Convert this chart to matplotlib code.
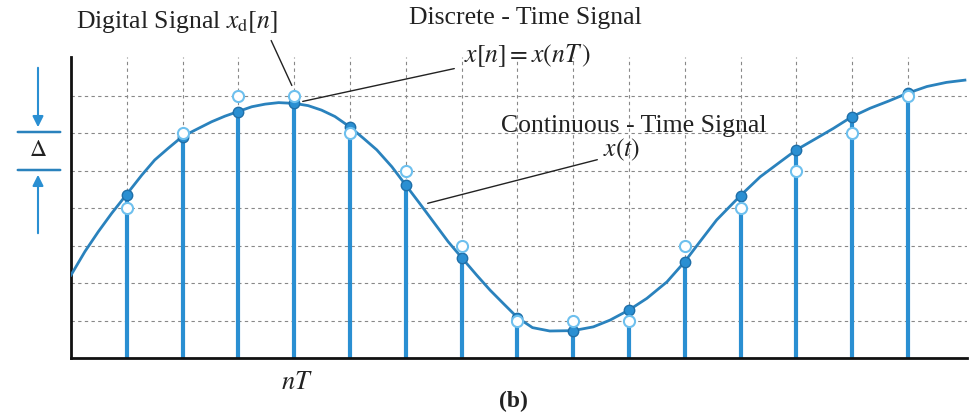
import numpy as np
import matplotlib
matplotlib.use('Agg')
import matplotlib.pyplot as plt

plt.rcParams['font.family'] = ['Liberation Serif', 'DejaVu Serif']
plt.rcParams['mathtext.fontset'] = 'stix'

# continuous-time signal x(t) (t in sample periods)
curve_t = [0, 0.25, 0.49, 0.73, 0.99, 1.27, 1.5, 1.74, 1.99, 2.28, 2.52,
           2.76, 2.99, 3.24, 3.48, 3.72, 4.0, 4.25, 4.49, 4.73, 4.99, 5.24,
           5.48, 5.75, 6.0, 6.25, 6.49, 6.76, 7.0, 7.27, 7.51, 7.75, 8.0,
           8.27, 8.58, 9.0, 9.36, 9.66, 10.0, 10.32, 10.68, 11.0, 11.27,
           11.57, 11.99, 12.35, 12.71, 13.0, 13.36, 13.66, 13.99, 14.32,
           14.65, 14.99, 15.34, 15.69, 16.02]
curve_x = [2.21, 2.84, 3.37, 3.86, 4.35, 4.88, 5.28, 5.59, 5.90, 6.12, 6.30,
           6.45, 6.57, 6.70, 6.77, 6.81, 6.79, 6.73, 6.61, 6.44, 6.17, 5.86,
           5.55, 5.10, 4.61, 4.12, 3.64, 3.10, 2.68, 2.21, 1.81, 1.45, 1.08,
           0.81, 0.72, 0.73, 0.83, 1.01, 1.28, 1.59, 2.03, 2.57, 3.10,
           3.68, 4.32, 4.83, 5.23, 5.55, 5.86, 6.12, 6.43, 6.66,
           6.85, 7.06, 7.24, 7.35, 7.41]

# samples x[n] = x(nT) and quantized x_d[n]
n = [1, 2, 3, 4, 5, 6, 7, 8, 9, 10, 11, 12, 13, 14, 15]
x_n = [4.35, 5.90, 6.57, 6.79, 6.17, 4.61, 2.68, 1.08, 0.73, 1.28, 2.57,
       4.32, 5.55, 6.43, 7.06]
x_d = [4, 6, 7, 7, 6, 5, 3, 1, 1, 1, 3, 4, 5, 6, 7]
levels = [1, 2, 3, 4, 5, 6, 7]

W, H = 979, 413
blue = '#2a8fd2'
line_blue = '#2a82bd'
ink = '#222222'
fs = 18.5


def px(x, y):
    return (x / W, 1 - y / H)


fig = plt.figure(figsize=(W / 100, H / 100), dpi=100)
ax = fig.add_axes([71 / W, (H - 358) / H, (967 - 71) / W, (358 - 57) / H])
ax.set_xlim(0, (967 - 71) / 55.8)
ax.set_ylim(0, (358 - 57) / 37.5)

for k in n:
    ax.axvline(k, color='#888888', lw=0.8, ls=(0, (3, 3)), zorder=1)
for lv in levels:
    ax.axhline(lv, color='#888888', lw=0.8, ls=(0, (3, 3)), zorder=1)

ax.vlines(n, 0, x_n, color=blue, lw=3.0, zorder=2)
ax.plot(curve_t, curve_x, color=line_blue, lw=2.0, zorder=3,
        solid_joinstyle='round')
ax.plot(n, x_n, 'o', ms=7.5, color=blue, mec='#1f6fa8', mew=1.0, zorder=4)
ax.plot(n, x_d, 'o', ms=8, mfc='white', mec='#6ec0ee', mew=1.5, zorder=5)

for s in ['top', 'right']:
    ax.spines[s].set_visible(False)
for s in ['left', 'bottom']:
    ax.spines[s].set_linewidth(2.0)
    ax.spines[s].set_color('#111111')
ax.set_xticks([])
ax.set_yticks([])

# annotations
fig.text(*px(177, 22), r'Digital Signal $x_{\rm d}[n]$', ha='center',
         va='center', fontsize=fs, color=ink)
ax.annotate('', xy=px(293, 88), xycoords='figure fraction',
            xytext=px(270, 38), textcoords='figure fraction',
            arrowprops=dict(arrowstyle='-', color=ink, lw=1.0))

fig.text(*px(525, 18), 'Discrete - Time Signal', ha='center', va='center',
         fontsize=fs, color=ink)
fig.text(*px(527, 56), r'$x[n] = x(nT\,)$', ha='center', va='center',
         fontsize=fs, color=ink)
ax.annotate('', xy=px(300, 102), xycoords='figure fraction',
            xytext=px(457, 68), textcoords='figure fraction',
            arrowprops=dict(arrowstyle='-', color=ink, lw=1.0))

fig.text(*px(634, 126), 'Continuous - Time Signal', ha='center',
         va='center', fontsize=fs, color=ink)
fig.text(*px(622, 150), r'$x(t)$', ha='center', va='center',
         fontsize=fs, color=ink)
ax.annotate('', xy=px(425, 204), xycoords='figure fraction',
            xytext=px(600, 159), textcoords='figure fraction',
            arrowprops=dict(arrowstyle='-', color=ink, lw=1.0))

# quantization step indicator
for yy in [132, 170]:
    ax.annotate('', xy=px(63, yy), xycoords='figure fraction',
                xytext=px(15, yy), textcoords='figure fraction',
                arrowprops=dict(arrowstyle='-', color=line_blue, lw=1.8))
ax.annotate('', xy=px(38, 130), xycoords='figure fraction',
            xytext=px(38, 65), textcoords='figure fraction',
            arrowprops=dict(arrowstyle='-|>', color=blue, lw=1.5,
                            mutation_scale=16))
ax.annotate('', xy=px(38, 172), xycoords='figure fraction',
            xytext=px(38, 236), textcoords='figure fraction',
            arrowprops=dict(arrowstyle='-|>', color=blue, lw=1.5,
                            mutation_scale=16))
fig.text(*px(38, 151), r'$\Delta$', ha='center', va='center',
         fontsize=17, color=ink)

fig.text(*px(297, 383), r'$nT$', ha='center', va='center', fontsize=19,
         color=ink)
fig.text(*px(513, 401), '(b)', ha='center', va='center', fontsize=17,
         fontweight='bold', color=ink)

fig.savefig('out.png', dpi=100)
